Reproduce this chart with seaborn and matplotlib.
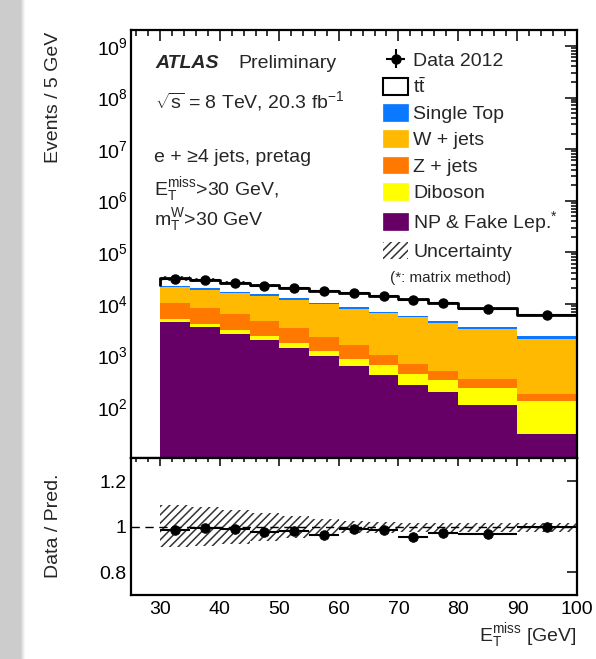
import numpy as np
import pandas as pd
import matplotlib
matplotlib.use("Agg")
import matplotlib.pyplot as plt
import seaborn as sns
from matplotlib.patches import Patch
from matplotlib.ticker import LogLocator, NullFormatter, MultipleLocator, FixedLocator

sns.set_theme(style="white")
plt.rcParams['font.family'] = ['Liberation Sans', 'DejaVu Sans']
plt.rcParams['mathtext.fontset'] = 'custom'
plt.rcParams['mathtext.rm'] = 'Liberation Sans'
plt.rcParams['mathtext.it'] = 'Liberation Sans:italic'
plt.rcParams['mathtext.bf'] = 'Liberation Sans:bold'
plt.rcParams['hatch.linewidth'] = 1.1

# ---------------- data ----------------
edges = [30, 35, 40, 45, 50, 55, 60, 65, 70, 75, 80, 90, 100]
np_fake = [4430, 3500, 2600, 1950, 1350, 950, 620, 410, 260, 190, 110, 29]
diboson = [670, 480, 450, 420, 410, 280, 240, 230, 180, 140, 120, 99]
zjets = [5400, 4320, 3150, 2200, 1540, 1010, 700, 390, 250, 160, 120, 52]
wjets = [10400, 10300, 9600, 9230, 8600, 7460, 6240, 5420, 4710, 3810, 2850, 1920]
single_top = [1300, 1100, 1200, 1300, 1100, 700, 800, 450, 400, 300, 350, 270]
ttbar = [8600, 8900, 8700, 7800, 7300, 7600, 7400, 7300, 6700, 5800, 4650, 3530]
data = [30400, 28430, 25390, 22330, 19890, 17370, 15840, 13990, 11940, 10090, 7950, 5900]
unc_up = [0.095, 0.085, 0.075, 0.06, 0.045, 0.035, 0.025, 0.022, 0.018, 0.018, 0.018, 0.018]
unc_down = [0.09, 0.085, 0.075, 0.065, 0.05, 0.04, 0.03, 0.028, 0.025, 0.025, 0.022, 0.022]

processes = ["tt", "Single Top", "W + jets", "Z + jets", "Diboson", "NP & Fake Lep.*"]
labels = [r"$\mathrm{t\bar{t}}$", "Single Top", "W + jets", "Z + jets", "Diboson", "NP & Fake Lep.$^{*}$"]
colors = ["#ffffff", "#0a78ff", "#ffb900", "#ff7800", "#ffff00", "#660066"]
yields = [ttbar, single_top, wjets, zjets, diboson, np_fake]

edges_a = np.array(edges, float)
centers = 0.5 * (edges_a[1:] + edges_a[:-1])
halfw = 0.5 * np.diff(edges_a)

df = pd.concat([pd.DataFrame({"x": centers, "w": y, "proc": p}) for p, y in zip(processes, yields)],
               ignore_index=True)
total = np.sum(np.array(yields, float), axis=0)
below_tt = total - np.array(ttbar, float)
data_a = np.array(data, float)

FS = 14

# ---------------- figure ----------------
W, H = 596, 659
fig = plt.figure(figsize=(W / 100, H / 100), dpi=100)
fig.patch.set_facecolor("white")

# grey slide strip on the left
grad = fig.add_axes([0, 0, 26 / W, 1])
g = np.linspace(0, 1, 26)
col = np.clip(np.where(g < 0.8, 0.80, 0.80 + (g - 0.8) / 0.2 * 0.2), 0, 1)
grad.imshow(np.tile(col, (10, 1)), cmap="gray", vmin=0, vmax=1, aspect="auto")
grad.set_axis_off()

L, R = 130.5, 577
T, M, B = 30, 458.3, 595
ax = fig.add_axes([L / W, 1 - M / H, (R - L) / W, (M - T) / H])
axr = fig.add_axes([L / W, 1 - B / H, (R - L) / W, (B - M) / H], sharex=ax)

sns.histplot(data=df, x="x", weights="w", hue="proc", hue_order=processes,
             palette=dict(zip(processes, colors)), bins=edges, multiple="stack",
             element="step", fill=True, alpha=1, linewidth=0, legend=False, ax=ax)
# ttbar outline (total)
sns.histplot(x=centers, weights=total, bins=edges, element="step", fill=False,
             color="black", linewidth=2.0, ax=ax)
ax.vlines([edges[0]], below_tt[0], total[0], color="black", lw=2.0)

# uncertainty hatch on the total
xs = edges_a
ax.fill_between(xs, np.append(total * (1 - np.array(unc_down)), total[-1] * (1 - unc_down[-1])),
                np.append(total * (1 + np.array(unc_up)), total[-1] * (1 + unc_up[-1])),
                step="post", facecolor="none", edgecolor="#333333", hatch="////", linewidth=0)

eb = ax.errorbar(centers, data_a, xerr=halfw, yerr=np.sqrt(data_a), fmt="o", color="black",
                 ms=6.5, elinewidth=1.5, capsize=0, label="Data 2012", zorder=5)

ax.set_yscale("log")
ax.set_xlim(25, 100)
ax.set_ylim(10, 2.04e9)
ax.set_xlabel("")
ax.set_ylabel("")

# ---------------- ratio ----------------
ratio = data_a / total
ratio_err = np.sqrt(data_a) / total
axr.fill_between(xs, np.append(1 - np.array(unc_down), 1 - unc_down[-1]),
                 np.append(1 + np.array(unc_up), 1 + unc_up[-1]),
                 step="post", facecolor="none", edgecolor="#333333", hatch="////", linewidth=0)
axr.axhline(1.0, ls=(0, (6, 4)), color="black", lw=1.0)
axr.errorbar(centers, ratio, xerr=halfw, yerr=ratio_err, fmt="none", color="black",
             elinewidth=1.5, capsize=0, zorder=5)
sns.scatterplot(x=centers, y=ratio, color="black", s=48, ax=axr, zorder=6, edgecolor="black")
axr.set_ylim(0.7, 1.3)
axr.set_xlim(25, 100)

# ---------------- styling ----------------
for a in (ax, axr):
    for s in a.spines.values():
        s.set_linewidth(1.6)
        s.set_color("black")
    a.tick_params(which="both", direction="in", top=True, right=True, colors="black",
                  labelsize=FS, width=1.1)
    a.xaxis.set_major_locator(MultipleLocator(10))
    a.xaxis.set_minor_locator(MultipleLocator(2))

ax.tick_params(axis="x", which="major", length=8)
ax.tick_params(axis="x", which="minor", length=4)
ax.tick_params(axis="y", which="major", length=8.5, pad=2)
ax.tick_params(axis="y", which="minor", length=4.3)
ax.tick_params(axis="x", labelbottom=False)
ax.yaxis.set_major_locator(FixedLocator([1e2, 1e3, 1e4, 1e5, 1e6, 1e7, 1e8, 1e9]))
ax.yaxis.set_minor_locator(LogLocator(base=10, subs=np.arange(2, 10), numticks=20))
ax.yaxis.set_minor_formatter(NullFormatter())

axr.tick_params(axis="x", which="major", length=5.5, pad=4)
axr.tick_params(axis="x", which="minor", length=3)
axr.tick_params(axis="y", which="major", length=7, pad=3)
axr.yaxis.set_major_locator(FixedLocator([0.8, 1.0, 1.2]))
axr.yaxis.set_minor_locator(FixedLocator([]))
axr.set_yticklabels(["0.8", "1", "1.2"])
axr.set_xlabel("")
axr.set_ylabel("")

# axis titles
fig.text(53 / W, 1 - 32 / H, "Events / 5 GeV", rotation=90, ha="center", va="top", fontsize=FS)
fig.text(53 / W, 1 - 526 / H, "Data / Pred.", rotation=90, ha="center", va="center", fontsize=FS)
fig.text(577 / W, 1 - 636 / H, r"E$_\mathrm{T}^\mathrm{miss}$ [GeV]", ha="right", va="center", fontsize=FS)

# annotations
fig.text(155 / W, 1 - 63 / H, "ATLAS", fontsize=FS, fontweight="bold", fontstyle="italic",
         ha="left", va="center")
fig.text(238 / W, 1 - 63 / H, "Preliminary", fontsize=FS, ha="left", va="center")
fig.text(155 / W, 1 - 101 / H, r"$\sqrt{\mathrm{s}}$ = 8 TeV, 20.3 fb$^{\mathrm{-1}}$", fontsize=FS,
         ha="left", va="center")
fig.text(154 / W, 1 - 158 / H, "e + ≥4 jets, pretag", fontsize=FS, ha="left", va="center")
fig.text(154 / W, 1 - 190 / H, r"E$_\mathrm{T}^\mathrm{miss}$>30 GeV,", fontsize=FS, ha="left", va="center")
fig.text(154 / W, 1 - 220 / H, r"m$_\mathrm{T}^\mathrm{W}$>30 GeV", fontsize=FS, ha="left", va="center")
fig.text(390 / W, 1 - 278 / H, "(*: matrix method)", fontsize=11, ha="left", va="center")

# legend
handles = [eb]
for lab, c in zip(labels, colors):
    if c == "#ffffff":
        handles.append(Patch(facecolor="white", edgecolor="black", linewidth=1.5, label=lab))
    else:
        handles.append(Patch(facecolor=c, edgecolor=c, linewidth=0.5, label=lab))
handles.append(Patch(facecolor="none", edgecolor="#333333", hatch="////", linewidth=0, label="Uncertainty"))
leg = ax.legend(handles=handles, labels=["Data 2012"] + labels + ["Uncertainty"],
                loc="upper left", bbox_to_anchor=(383 / W, 1 - 51 / H), bbox_transform=fig.transFigure,
                frameon=False, fontsize=FS, handlelength=1.3, handleheight=0.95,
                handletextpad=0.25, labelspacing=0.37, borderpad=0, borderaxespad=0)

fig.savefig("out.png", dpi=100)
